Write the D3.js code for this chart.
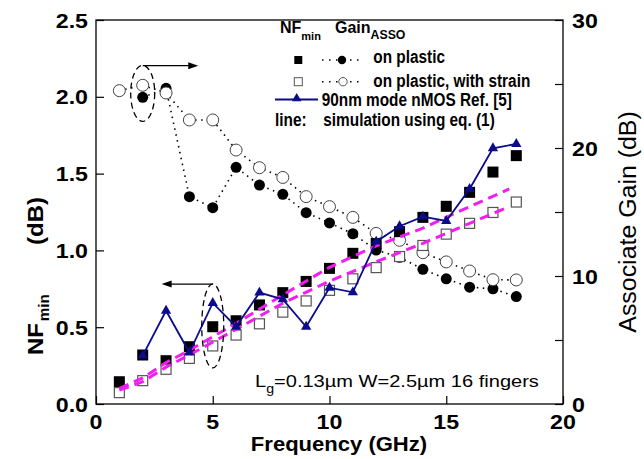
<!DOCTYPE html>
<html>
<head>
<meta charset="utf-8">
<script src="https://cdn.jsdelivr.net/npm/d3@7"></script>
<style>
body { margin: 0; background: #fff; }
svg { display: block; font-family: "Liberation Sans", Arial, sans-serif; }
</style>
</head>
<body>
<svg id="chart" width="644" height="459"></svg>
<script>
var freq = [1, 2, 3, 4, 5, 6, 7, 8, 9, 10, 11, 12, 13, 14, 15, 16, 17, 18];
var nfPlastic = [0.145, 0.319, 0.282, 0.373, 0.503, 0.542, 0.645, 0.725, 0.798, 0.883, 0.981, 1.045, 1.122, 1.215, 1.287, 1.378, 1.510, 1.617];
var nfStrain = [0.074, 0.152, 0.226, 0.297, 0.378, 0.449, 0.522, 0.598, 0.671, 0.740, 0.815, 0.888, 0.960, 1.032, 1.106, 1.176, 1.247, 1.315];

var refFreq = [2, 3, 4, 5, 6, 7, 8, 9, 10, 11, 12, 13, 14, 15, 16, 17, 18];
var nfRef = [0.315, 0.607, 0.335, 0.658, 0.503, 0.725, 0.681, 0.503, 0.757, 0.727, 1.057, 1.157, 1.220, 1.192, 1.400, 1.665, 1.693];

var gainFreq = [2, 3, 4, 5, 6, 7, 8, 9, 10, 11, 12, 13, 14, 15, 16, 17, 18];
var gainPlastic = [23.96, 24.66, 16.2, 15.34, 18.49, 17.1, 16.38, 14.95, 14.15, 13.3, 12.03, 11.46, 10.52, 9.78, 9.13, 9.0, 8.39];
var gainStrain = [24.48, 24.9, 24.3, 22.19, 22.19, 19.84, 18.46, 17.7, 16.2, 15.42, 14.58, 13.33, 12.79, 11.82, 11.1, 10.39, 9.71, 9.69];

// simulation (eq. 1)
var simFreq = [1, 2, 3, 4, 6, 8, 10, 12, 14, 16, 17.7];
var simUpper = [0.10, 0.17, 0.27, 0.35, 0.525, 0.71, 0.89, 1.03, 1.145, 1.285, 1.40];
var simLower = [0.09, 0.145, 0.24, 0.32, 0.486, 0.656, 0.80, 0.926, 1.046, 1.176, 1.285];

var freqTicks = [0, 5, 10, 15, 20];
var nfTicks = [0, 0.5, 1.0, 1.5, 2.0, 2.5];
var gainTicks = [0, 10, 20, 30];
var gainMinor = [5, 15, 25];

var navy = "#0b0b8c", magenta = "#f01ef0";

var svg = d3.select("#chart");

var x = d3.scaleLinear().domain([0, 20]).range([96, 563]);
var yL = d3.scaleLinear().domain([0, 2.5]).range([404, 20]);
var yR = d3.scaleLinear().domain([0, 30]).range([404, 20]);

// frame
svg.append("rect")
   .attr("x", x(0)).attr("y", yL(2.5))
   .attr("width", x(20) - x(0)).attr("height", yL(0) - yL(2.5))
   .attr("fill", "none").attr("stroke", "#000").attr("stroke-width", 1.3);

// inward ticks
function noDomain(g) { g.select(".domain").remove(); g.selectAll("line").attr("stroke-width", 1.2); }

svg.append("g").attr("transform", "translate(" + x(0) + ",0)")
   .call(d3.axisLeft(yL).tickValues(nfTicks).tickSize(-8).tickFormat(""))
   .call(noDomain);
svg.append("g").attr("transform", "translate(" + x(20) + ",0)")
   .call(d3.axisRight(yR).tickValues(gainTicks.concat(gainMinor)).tickSize(-8).tickFormat(""))
   .call(noDomain);
svg.append("g").attr("transform", "translate(0," + yL(0) + ")")
   .call(d3.axisBottom(x).tickValues(freqTicks).tickSize(-8).tickFormat(""))
   .call(noDomain);

// tick labels
svg.append("g").selectAll("text").data(nfTicks).join("text")
   .attr("transform", function(d) { return "translate(88," + (yL(d) + 7.5) + ") scale(1.16,1)"; })
   .attr("text-anchor", "end").attr("font-weight", "bold").attr("font-size", 20)
   .text(function(d) { return d3.format(".1f")(d); });

svg.append("g").selectAll("text").data(gainTicks).join("text")
   .attr("transform", function(d) { return "translate(572," + (yR(d) + 7.5) + ") scale(1.16,1)"; })
   .attr("font-weight", "bold").attr("font-size", 20)
   .text(function(d) { return d; });

svg.append("g").selectAll("text").data(freqTicks).join("text")
   .attr("transform", function(d) { return "translate(" + x(d) + ",429) scale(1.16,1)"; })
   .attr("text-anchor", "middle").attr("font-weight", "bold").attr("font-size", 20)
   .text(function(d) { return d; });

// axis titles
svg.append("text")
   .attr("transform", "translate(339,451) scale(1.05,1)")
   .attr("text-anchor", "middle").attr("font-weight", "bold").attr("font-size", 21)
   .text("Frequency (GHz)");

var ltitle = svg.append("text")
   .attr("transform", "translate(43,355) rotate(-90) scale(1.09,1)")
   .attr("font-weight", "bold").attr("font-size", 22);
ltitle.append("tspan").attr("x", 0).text("NF");
ltitle.append("tspan").attr("x", 31).attr("dy", 6).attr("font-size", 14).text("min");
ltitle.append("tspan").attr("x", 101).attr("dy", -6).text("(dB)");

svg.append("text")
   .attr("transform", "translate(636,222) rotate(-90) scale(1.06,1)")
   .attr("text-anchor", "middle").attr("font-size", 23.5)
   .text("Associate Gain (dB)");

// gain series (right axis), dotted
var lineR = d3.line().x(function(d) { return x(d[0]); }).y(function(d) { return yR(d[1]); });
var lineL = d3.line().x(function(d) { return x(d[0]); }).y(function(d) { return yL(d[1]); });

var gP = d3.zip(gainFreq, gainPlastic), gS = d3.zip(freq, gainStrain);

svg.append("path").datum(gP).attr("d", lineR)
   .attr("fill", "none").attr("stroke", "#000").attr("stroke-width", 1.6).attr("stroke-dasharray", "1.5,4.5");
svg.append("path").datum(gS).attr("d", lineR)
   .attr("fill", "none").attr("stroke", "#000").attr("stroke-width", 1.6).attr("stroke-dasharray", "1.5,4.5");

svg.append("g").selectAll("circle").data(gP).join("circle")
   .attr("cx", function(d) { return x(d[0]); }).attr("cy", function(d) { return yR(d[1]); })
   .attr("r", 5.5).attr("fill", "#000");
svg.append("g").selectAll("circle").data(gS).join("circle")
   .attr("cx", function(d) { return x(d[0]); }).attr("cy", function(d) { return yR(d[1]); })
   .attr("r", 6).attr("fill", "#fff").attr("stroke", "#444").attr("stroke-width", 1);

// NFmin squares (left axis)
svg.append("g").selectAll("rect").data(d3.zip(freq, nfPlastic)).join("rect")
   .attr("x", function(d) { return x(d[0]) - 5.5; }).attr("y", function(d) { return yL(d[1]) - 5.5; })
   .attr("width", 11).attr("height", 11).attr("fill", "#000");
svg.append("g").selectAll("rect").data(d3.zip(freq, nfStrain)).join("rect")
   .attr("x", function(d) { return x(d[0]) - 5; }).attr("y", function(d) { return yL(d[1]) - 5; })
   .attr("width", 10).attr("height", 10).attr("fill", "#fff").attr("stroke", "#555").attr("stroke-width", 1.2);

// simulation lines
[simUpper, simLower].forEach(function(s) {
  svg.append("path").datum(d3.zip(simFreq, s)).attr("d", lineL)
     .attr("fill", "none").attr("stroke", magenta).attr("stroke-width", 3).attr("stroke-dasharray", "10,6");
});

// 90nm reference
var ref = d3.zip(refFreq, nfRef);
svg.append("path").datum(ref).attr("d", lineL)
   .attr("fill", "none").attr("stroke", navy).attr("stroke-width", 1.8);
svg.append("g").selectAll("path").data(ref).join("path")
   .attr("transform", function(d) { return "translate(" + x(d[0]) + "," + yL(d[1]) + ")"; })
   .attr("d", d3.symbol(d3.symbolTriangle).size(46)).attr("fill", navy);

// annotations: dashed ellipses + arrows
function arrow(x1, x2, y) {
  var dir = x2 > x1 ? 1 : -1;
  svg.append("line").attr("x1", x1).attr("x2", x2 - dir * 6).attr("y1", y).attr("y2", y)
     .attr("stroke", "#000").attr("stroke-width", 1.3);
  svg.append("path")
     .attr("d", "M" + x2 + "," + y + "L" + (x2 - dir * 10) + "," + (y - 3.5) + "L" + (x2 - dir * 10) + "," + (y + 3.5) + "Z")
     .attr("fill", "#000");
}
svg.append("ellipse").attr("cx", x(2)).attr("cy", yR(24.27)).attr("rx", 12).attr("ry", 28)
   .attr("fill", "none").attr("stroke", "#000").attr("stroke-width", 1.3).attr("stroke-dasharray", "6,4");
arrow(x(2), x(4.38), yR(26.43));
svg.append("ellipse").attr("cx", x(5)).attr("cy", yL(0.508)).attr("rx", 11).attr("ry", 42)
   .attr("fill", "none").attr("stroke", "#000").attr("stroke-width", 1.3).attr("stroke-dasharray", "6,4");
arrow(x(5), x(2.81), yL(0.781));

// legend
var lg = svg.append("g");
var h1 = lg.append("text").attr("x", 280).attr("y", 33.3).attr("font-weight", "bold").attr("font-size", 16);
h1.append("tspan").text("NF");
h1.append("tspan").attr("dy", 7).attr("font-size", 11).text("min");
var h2 = lg.append("text").attr("x", 335).attr("y", 33.3).attr("font-weight", "bold").attr("font-size", 16);
h2.append("tspan").text("Gain");
h2.append("tspan").attr("dy", 6).attr("font-size", 12.3).text("ASSO");

lg.append("rect").attr("x", 294.3).attr("y", 56).attr("width", 8).attr("height", 8).attr("fill", "#000");
lg.append("line").attr("x1", 322).attr("x2", 362).attr("y1", 60).attr("y2", 60)
  .attr("stroke", "#000").attr("stroke-width", 1.6).attr("stroke-dasharray", "1.5,5.5");
lg.append("circle").attr("cx", 342).attr("cy", 60).attr("r", 4.2).attr("fill", "#000");

lg.append("rect").attr("x", 294.3).attr("y", 77.7).attr("width", 8).attr("height", 8)
  .attr("fill", "#fff").attr("stroke", "#555").attr("stroke-width", 1);
lg.append("line").attr("x1", 322).attr("x2", 362).attr("y1", 81.7).attr("y2", 81.7)
  .attr("stroke", "#000").attr("stroke-width", 1.6).attr("stroke-dasharray", "1.5,5.5");
lg.append("circle").attr("cx", 343).attr("cy", 81.7).attr("r", 4.2)
  .attr("fill", "#fff").attr("stroke", "#555").attr("stroke-width", 1);

lg.append("line").attr("x1", 275).attr("x2", 318).attr("y1", 99.5).attr("y2", 99.5)
  .attr("stroke", navy).attr("stroke-width", 1.8);
lg.append("path").attr("transform", "translate(296.7,98.5)")
  .attr("d", d3.symbol(d3.symbolTriangle).size(40)).attr("fill", navy);

var legendText = [
  {x: 373.3, y: 62.7, t: "on plastic"},
  {x: 373.3, y: 87, t: "on plastic, with strain"},
  {x: 321.7, y: 106, t: "90nm mode nMOS Ref. [5]"},
  {x: 275, y: 126, t: "line:"},
  {x: 323.3, y: 126, t: "simulation using eq. (1)"}
];
lg.selectAll("text.lt").data(legendText).join("text").attr("class", "lt")
  .attr("transform", function(d) { return "translate(" + d.x + "," + d.y + ") scale(0.83,1)"; })
  .attr("font-weight", "bold").attr("font-size", 18.5)
  .text(function(d) { return d.t; });

// device note
var note = svg.append("text")
   .attr("transform", "translate(255,387.3) scale(1.18,1)")
   .attr("font-size", 17);
note.append("tspan").text("L");
note.append("tspan").attr("dy", 6).attr("font-size", 12).text("g");
note.append("tspan").attr("dy", -6).text("=0.13\u00b5m W=2.5\u00b5m 16 fingers");
</script>
</body>
</html>
